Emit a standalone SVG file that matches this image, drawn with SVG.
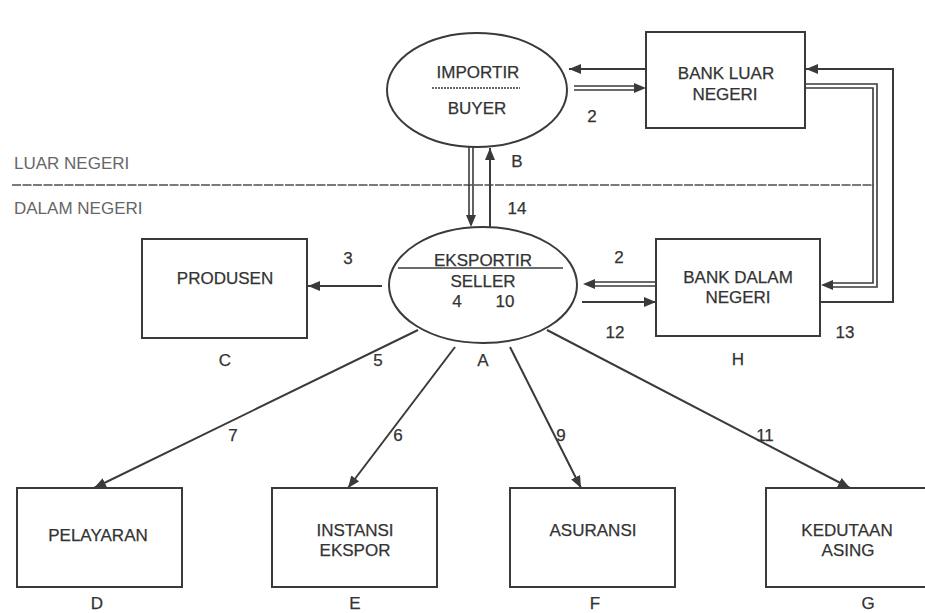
<svg xmlns="http://www.w3.org/2000/svg" width="925" height="613" viewBox="0 0 925 613">
<defs>
<style>
.t{font-family:"Liberation Sans",Arial,sans-serif;font-size:17px;fill:#333;stroke:#333;stroke-width:0.25;text-anchor:middle}
.tl{font-family:"Liberation Sans",Arial,sans-serif;font-size:17px;fill:#666;text-anchor:start}
.box{fill:#fff;stroke:#3a3a3a;stroke-width:2}
.ell{fill:#fff;stroke:#3a3a3a;stroke-width:2}
.ln2{fill:none;stroke:#3a3a3a;stroke-width:1.6}
.arr{fill:none;stroke:#3a3a3a;stroke-width:2;marker-end:url(#ah)}
.head{fill:#3a3a3a}
</style>
<marker id="ah" markerUnits="userSpaceOnUse" markerWidth="13" markerHeight="10" refX="12" refY="5" orient="auto">
<path d="M0,0 L12,5 L0,10 z" fill="#3a3a3a"/>
</marker>
</defs>
<rect width="925" height="613" fill="#fff"/>

<g id="divider">
<line x1="12" y1="185" x2="874" y2="185" stroke="#7a7a7a" stroke-width="1.8" stroke-dasharray="9 1.5"/>
<text class="tl" x="14" y="169">LUAR NEGERI</text>
<text class="tl" x="14" y="214">DALAM NEGERI</text>
</g>

<g id="connectors">
<line class="arr" x1="646" y1="69" x2="569" y2="69"/>
<line class="ln2" x1="574" y1="86" x2="636" y2="86"/>
<line class="ln2" x1="574" y1="90" x2="636" y2="90"/>
<polygon class="head" points="646,88 634,83 634,93"/>
<path class="arr" d="M820 302 H893 V69 H806"/>
<path class="ln2" d="M805 84 H877 V287 H831"/>
<path class="ln2" d="M805 88 H873 V283 H831"/>
<polygon class="head" points="821,285 833,280 833,290"/>
<line class="ln2" x1="469" y1="147" x2="469" y2="217"/>
<line class="ln2" x1="473" y1="147" x2="473" y2="217"/>
<polygon class="head" points="471,227 466,215 476,215"/>
<line class="arr" x1="490" y1="227" x2="490" y2="148"/>
<line class="arr" x1="382" y1="286" x2="308" y2="286"/>
<line class="ln2" x1="593" y1="282" x2="656" y2="282"/>
<line class="ln2" x1="593" y1="286" x2="656" y2="286"/>
<polygon class="head" points="583,284 595,279 595,289"/>
<line class="arr" x1="582" y1="302" x2="656" y2="302"/>
<line class="arr" x1="418" y1="330" x2="94" y2="488"/>
<line class="arr" x1="455" y1="347" x2="348" y2="488"/>
<line class="arr" x1="510" y1="347" x2="581" y2="488"/>
<line class="arr" x1="547" y1="330" x2="850" y2="488"/>
</g>

<g id="importir">
<ellipse class="ell" cx="477" cy="90" rx="90" ry="57"/>
<text class="t" x="478" y="78">IMPORTIR</text>
<line x1="432" y1="88" x2="520" y2="88" stroke="#3a3a3a" stroke-width="1.5" stroke-dasharray="2 1"/>
<text class="t" x="477" y="114">BUYER</text>
</g>

<g id="bank-luar-negeri">
<rect class="box" x="646" y="32" width="159" height="96"/>
<text class="t" x="726" y="79">BANK LUAR</text>
<text class="t" x="725" y="100">NEGERI</text>
</g>

<g id="eksportir">
<ellipse class="ell" cx="483" cy="285" rx="94" ry="58"/>
<text class="t" x="483" y="266">EKSPORTIR</text>
<line x1="398" y1="268" x2="563" y2="268" stroke="#3a3a3a" stroke-width="1.5"/>
<text class="t" x="483" y="287">SELLER</text>
<text class="t" x="457" y="307">4</text>
<text class="t" x="505" y="307">10</text>
<text class="t" x="483" y="366">A</text>
</g>

<g id="produsen">
<rect class="box" x="142" y="239" width="165" height="99"/>
<text class="t" x="225" y="284">PRODUSEN</text>
<text class="t" x="225" y="366">C</text>
</g>

<g id="bank-dalam-negeri">
<rect class="box" x="656" y="239" width="164" height="97"/>
<text class="t" x="738" y="283">BANK DALAM</text>
<text class="t" x="738" y="303">NEGERI</text>
<text class="t" x="738" y="365">H</text>
</g>

<g id="pelayaran">
<rect class="box" x="17" y="488" width="165" height="99"/>
<text class="t" x="98" y="541">PELAYARAN</text>
<text class="t" x="97" y="609">D</text>
</g>

<g id="instansi-ekspor">
<rect class="box" x="272" y="488" width="165" height="99"/>
<text class="t" x="355" y="536">INSTANSI</text>
<text class="t" x="355" y="556">EKSPOR</text>
<text class="t" x="355" y="609">E</text>
</g>

<g id="asuransi">
<rect class="box" x="510" y="488" width="165" height="99"/>
<text class="t" x="593" y="536">ASURANSI</text>
<text class="t" x="595" y="609">F</text>
</g>

<g id="kedutaan-asing">
<rect class="box" x="766" y="488" width="170" height="99"/>
<text class="t" x="847" y="536">KEDUTAAN</text>
<text class="t" x="848" y="556">ASING</text>
<text class="t" x="868" y="609">G</text>
</g>

<g id="labels">
<text class="t" x="592" y="122">2</text>
<text class="t" x="517" y="167">B</text>
<text class="t" x="517" y="214">14</text>
<text class="t" x="348" y="264">3</text>
<text class="t" x="619" y="263">2</text>
<text class="t" x="615" y="338">12</text>
<text class="t" x="845" y="338">13</text>
<text class="t" x="378" y="366">5</text>
<text class="t" x="233" y="441">7</text>
<text class="t" x="398" y="441">6</text>
<text class="t" x="561" y="441">9</text>
<text class="t" x="765" y="441">11</text>
</g>
</svg>
